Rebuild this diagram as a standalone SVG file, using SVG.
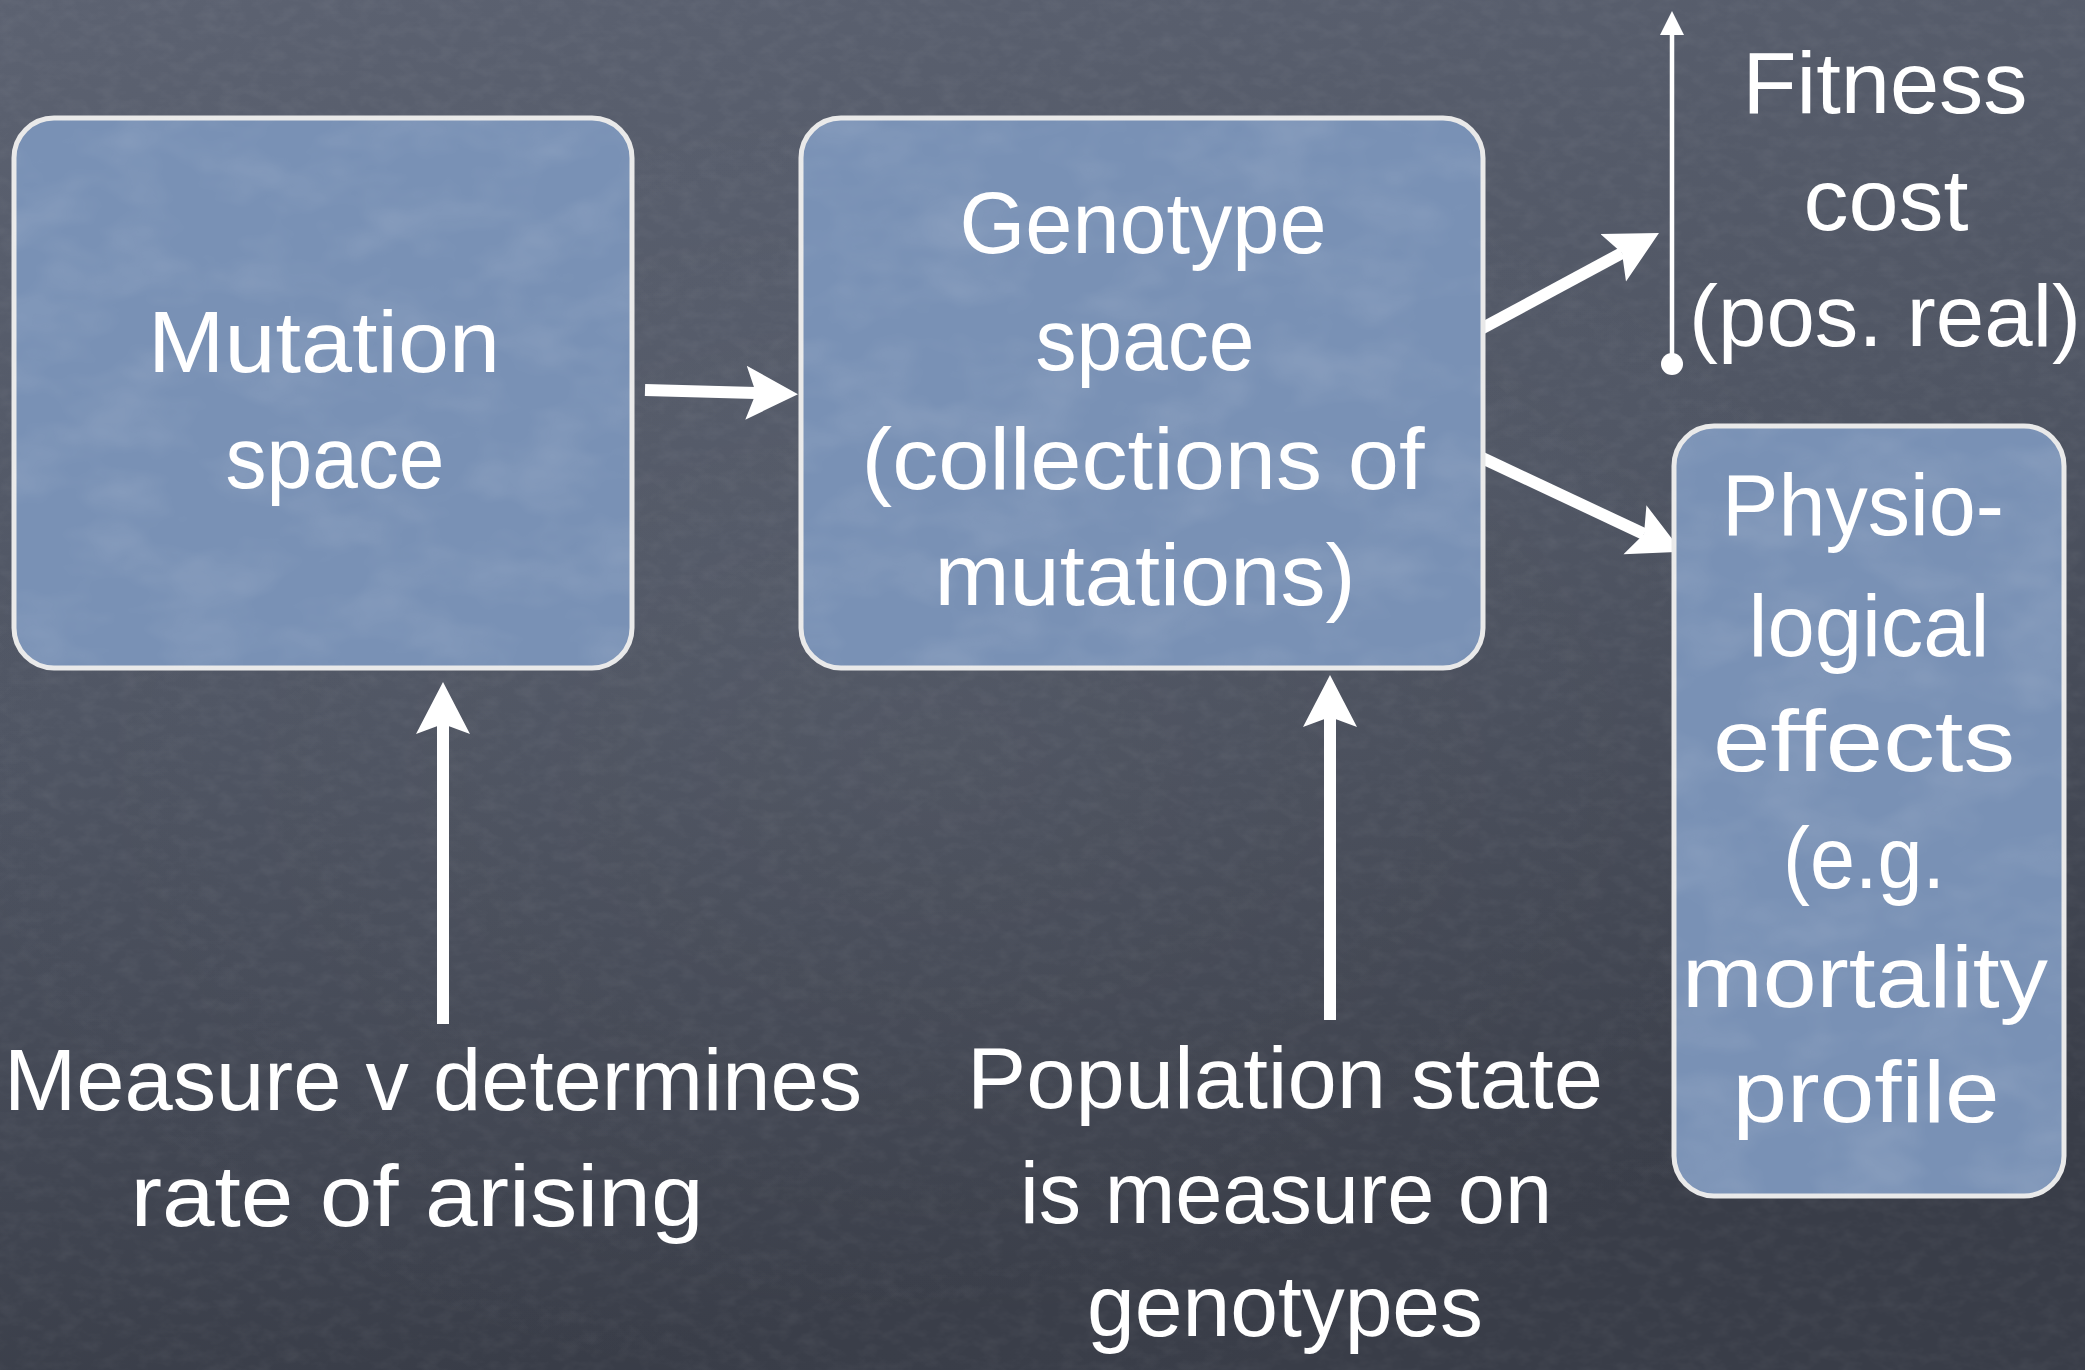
<svg xmlns="http://www.w3.org/2000/svg" width="2085" height="1370" viewBox="0 0 2085 1370">
  <defs>
    <style>
      .box { fill: #7991b5; stroke: #e9e9e9; stroke-width: 5; }
      .grain { fill: #ffffff; }
      .label { font-family: "Liberation Sans", "DejaVu Sans", sans-serif; font-size: 88px; fill: #ffffff; text-anchor: middle; }
      .shaft { stroke: #ffffff; stroke-width: 12; fill: none; marker-end: url(#head); }
      .axis { stroke: #ffffff; stroke-width: 4.5; fill: none; marker-end: url(#axisHead); }
    </style>
    <linearGradient id="board" x1="0" y1="0" x2="0.25" y2="1">
      <stop offset="0" stop-color="#5c6271"/>
      <stop offset="0.5" stop-color="#4f5563"/>
      <stop offset="1" stop-color="#393d48"/>
    </linearGradient>
    <radialGradient id="glow" cx="0.45" cy="0.55" r="0.5">
      <stop offset="0" stop-color="#ffffff" stop-opacity="0.04"/>
      <stop offset="1" stop-color="#ffffff" stop-opacity="0"/>
    </radialGradient>
    <!-- fine chalk dust over the board -->
    <filter id="dust" x="0" y="0" width="100%" height="100%">
      <feTurbulence type="fractalNoise" baseFrequency="0.05 0.08" numOctaves="3" seed="7"/>
      <feColorMatrix type="matrix" values="0 0 0 0 1  0 0 0 0 1  0 0 0 0 1  0.5 0 0 0 -0.2"/>
    </filter>
    <!-- mottled paper look inside the boxes -->
    <filter id="mottle" x="0" y="0" width="100%" height="100%">
      <feTurbulence type="fractalNoise" baseFrequency="0.012 0.02" numOctaves="3" seed="11" result="n"/>
      <feColorMatrix in="n" type="matrix" values="0 0 0 0 1  0 0 0 0 1  0 0 0 0 1  0.45 0 0 0 -0.18" result="c"/>
      <feComposite in="c" in2="SourceAlpha" operator="in"/>
    </filter>
    <marker id="head" markerUnits="userSpaceOnUse" viewBox="0 -28 54 56" refX="10" refY="0" markerWidth="54" markerHeight="56" orient="auto">
      <path d="M0,-27 L52,0 L0,27 L10,0 Z" fill="#ffffff"/>
    </marker>
    <marker id="axisHead" markerUnits="userSpaceOnUse" viewBox="0 -13 26 26" refX="1" refY="0" markerWidth="26" markerHeight="26" orient="auto">
      <path d="M0,-12 L24,0 L0,12 Z" fill="#ffffff"/>
    </marker>
  </defs>

  <!-- board -->
  <rect width="2085" height="1370" fill="url(#board)"/>
  <rect width="2085" height="1370" fill="url(#glow)"/>
  <rect width="2085" height="1370" fill="#ffffff" filter="url(#dust)" opacity="0.18"/>

  <!-- connectors -->
  <g id="connectors">
    <line class="shaft" x1="645" y1="390" x2="756" y2="393"/>
    <line class="shaft" x1="443" y1="1024" x2="443" y2="724"/>
    <line class="shaft" x1="1330" y1="1020" x2="1330" y2="717"/>
    <line class="shaft" x1="1479" y1="330" x2="1622" y2="253"/>
    <line class="shaft" x1="1478" y1="456" x2="1644" y2="534"/>
  </g>

  <g id="node-mutation">
    <rect class="box" x="14" y="118" width="618" height="550" rx="40"/>
    <rect class="grain" x="14" y="118" width="618" height="550" rx="40" filter="url(#mottle)" opacity="0.45"/>
    <text class="label" x="324" y="372" textLength="352" lengthAdjust="spacingAndGlyphs">Mutation</text>
    <text class="label" x="335" y="488" textLength="219" lengthAdjust="spacingAndGlyphs">space</text>
  </g>

  <g id="node-genotype">
    <rect class="box" x="801" y="118" width="682" height="550" rx="40"/>
    <rect class="grain" x="801" y="118" width="682" height="550" rx="40" filter="url(#mottle)" opacity="0.45"/>
    <text class="label" x="1143" y="253" textLength="367" lengthAdjust="spacingAndGlyphs">Genotype</text>
    <text class="label" x="1145" y="370" textLength="219" lengthAdjust="spacingAndGlyphs">space</text>
    <text class="label" x="1143" y="489" textLength="563" lengthAdjust="spacingAndGlyphs">(collections of</text>
    <text class="label" x="1145" y="605" textLength="421" lengthAdjust="spacingAndGlyphs">mutations)</text>
  </g>

  <g id="node-physio">
    <rect class="box" x="1674" y="426" width="390" height="770" rx="40"/>
    <rect class="grain" x="1674" y="426" width="390" height="770" rx="40" filter="url(#mottle)" opacity="0.45"/>
    <text class="label" x="1863" y="535" textLength="282" lengthAdjust="spacingAndGlyphs">Physio-</text>
    <text class="label" x="1869" y="656" textLength="241" lengthAdjust="spacingAndGlyphs">logical</text>
    <text class="label" x="1864" y="771" textLength="302" lengthAdjust="spacingAndGlyphs">effects</text>
    <text class="label" x="1864" y="888" textLength="162" lengthAdjust="spacingAndGlyphs">(e.g.</text>
    <text class="label" x="1865" y="1007" textLength="366" lengthAdjust="spacingAndGlyphs">mortality</text>
    <text class="label" x="1866" y="1122" textLength="267" lengthAdjust="spacingAndGlyphs">profile</text>
  </g>

  <g id="node-fitness">
    <line class="axis" x1="1672" y1="364" x2="1672" y2="34"/>
    <circle cx="1672" cy="364" r="11" fill="#ffffff"/>
    <text class="label" x="1885" y="113" textLength="285" lengthAdjust="spacingAndGlyphs">Fitness</text>
    <text class="label" x="1886" y="230" textLength="165" lengthAdjust="spacingAndGlyphs">cost</text>
    <text class="label" x="1885" y="346" textLength="392" lengthAdjust="spacingAndGlyphs">(pos. real)</text>
  </g>

  <g id="node-measure">
    <text class="label" x="433" y="1110" textLength="858" lengthAdjust="spacingAndGlyphs">Measure v determines</text>
    <text class="label" x="417" y="1226" textLength="573" lengthAdjust="spacingAndGlyphs">rate of arising</text>
  </g>

  <g id="node-population">
    <text class="label" x="1285" y="1108" textLength="636" lengthAdjust="spacingAndGlyphs">Population state</text>
    <text class="label" x="1286" y="1223" textLength="532" lengthAdjust="spacingAndGlyphs">is measure on</text>
    <text class="label" x="1285" y="1336" textLength="396" lengthAdjust="spacingAndGlyphs">genotypes</text>
  </g>
</svg>
